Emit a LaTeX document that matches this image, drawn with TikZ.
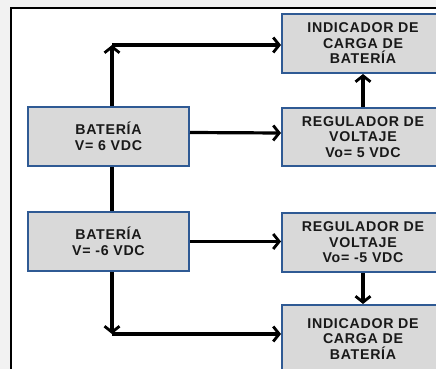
\documentclass[tikz,border=0pt]{standalone}
\usepackage{fontspec}
\setmainfont{Liberation Sans}
\newfontfamily\boxfont{Liberation Sans}[LetterSpace=5]
\usepackage{tikz}
\usetikzlibrary{arrows.meta}

\definecolor{boxgray}{HTML}{D9D9D9}
\definecolor{boxblue}{HTML}{2F5A94}
\definecolor{pagegray}{HTML}{F2F2F2}

\tikzset{
  block/.style={draw=boxblue, line width=2pt, fill=boxgray, minimum width=161pt,
    align=center, inner sep=0pt, font=\boxfont\bfseries\fontsize{14.2}{15.5}\selectfont,
    text=black!90},
  arr/.style={line width=3.2pt, -{Straight Barb[length=6pt,width=15pt,line width=2.8pt]}},
  link/.style={line width=3.2pt}
}

\begin{document}
\begin{tikzpicture}[x=1pt, y=-1pt]
      \useasboundingbox (0, 0) rectangle (436, 369);
      \clip (0, 0) rectangle (436, 369);
      \fill [pagegray] (0, 0) rectangle (436, 369);
      \draw [fill=white, line width=2pt] (11, 8.5) rectangle (460, 400);

      \node [block, minimum height=59pt, minimum width=162pt] (ind1) at (363, 43.5) {INDICADOR DE\\CARGA DE\\BATERÍA};
      \node [block, minimum height=58pt, minimum width=162pt] (reg1) at (363, 137) {REGULADOR DE\\VOLTAJE\\Vo= 5 VDC};
      \node [block, minimum height=59pt] (bat1) at (108.5, 136.5) {BATERÍA\\V= 6 VDC};

      \node [block, minimum height=59pt] (bat2) at (108.5, 241.5) {BATERÍA\\V= -6 VDC};
      \node [block, minimum height=59pt, minimum width=162pt] (reg2) at (363, 242.5) {REGULADOR DE\\VOLTAJE\\Vo= -5 VDC};
      \node [block, minimum height=68pt, minimum width=162pt] (ind2) at (363, 339) {INDICADOR DE\\CARGA DE\\BATERÍA};

      \coordinate (up) at (112, 45);
      \coordinate (down) at (112, 334);

      \draw [arr] (bat1.north -| up) -- (up);
      \draw [arr] (up) -- (up -| ind1.west);
      \draw [arr] ([yshift=4pt]bat1.east) -- ([yshift=4pt]reg1.west);
      \draw [arr] (reg1.north) -- (ind1.south);
      \draw [link] (bat1.south -| up) -- (bat2.north -| up);

      \draw [arr] (bat2.east) -- (bat2.east -| reg2.west);
      \draw [arr] (reg2.south) -- (ind2.north);
      \draw [arr] (bat2.south -| down) -- (down);
      \draw [arr] (down) -- (down -| ind2.west);
\end{tikzpicture}
\end{document}
